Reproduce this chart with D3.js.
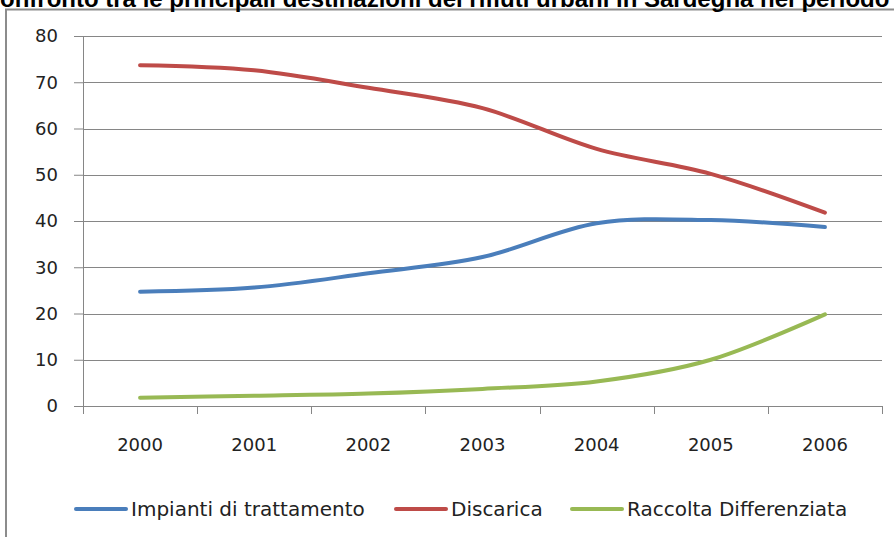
<!DOCTYPE html>
<html>
<head>
<meta charset="utf-8">
<script src="https://cdn.jsdelivr.net/npm/d3@7"></script>
<style>
  body { margin: 0; background: #fff; }
  svg { display: block; }
  .axis text { font-family: "DejaVu Sans", sans-serif; font-size: 18px; fill: #222; }
  .axis path, .axis line { stroke: #868686; }
  .grid line { stroke: #868686; stroke-width: 1; }
  .legend text { font-family: "DejaVu Sans", sans-serif; font-size: 20px; fill: #222; }
</style>
</head>
<body>
<div id="chart"></div>
<script>
var years = ["2000", "2001", "2002", "2003", "2004", "2005", "2006"];
var impianti = [24.7, 25.6, 28.7, 32.2, 39.5, 40.2, 38.7];
var discarica = [73.7, 72.6, 68.8, 64.4, 55.6, 50.2, 41.8];
var raccolta = [1.8, 2.2, 2.7, 3.7, 5.3, 10.0, 19.8];
var seriesNames = ["Impianti di trattamento", "Discarica", "Raccolta Differenziata"];
var yTicks = [0, 10, 20, 30, 40, 50, 60, 70, 80];
var title = "Confronto tra le principali destinazioni dei rifiuti urbani in Sardegna nel periodo 2000-2006";

var colors = ["#4a7ebb", "#be4b48", "#98b954"];
var series = [impianti, discarica, raccolta];

var W = 894, H = 537;
var margin = {top: 36, left: 83, right: 12, bottom: 131};
var width = W - margin.left - margin.right,
    height = H - margin.top - margin.bottom;

var root = d3.select("#chart").append("svg")
    .attr("width", W)
    .attr("height", H);

// outer frame (only left and top visible)
root.append("path")
    .attr("d", "M6,540 L6,9.5 L900,9.5")
    .attr("fill", "none")
    .attr("stroke", "#8c8c8c")
    .attr("stroke-width", 2);

// title, cut off at the top like the source image
var t = root.append("text")
    .attr("y", 7)
    .style("font-family", "'Liberation Sans', Arial, sans-serif")
    .style("font-weight", "bold")
    .style("font-size", "24px")
    .text("C");
var cw = t.node().getComputedTextLength();
t.attr("x", -cw).text(title);

var svg = root.append("g")
    .attr("transform", "translate(" + margin.left + "," + margin.top + ")");

var x = d3.scaleBand().domain(years).range([0, width]);
var y = d3.scaleLinear().domain([0, 80]).range([height, 0]);

// grid
svg.append("g")
    .attr("class", "grid")
    .selectAll("line")
    .data(yTicks.filter(function(d){ return d > 0; }))
    .enter().append("line")
    .attr("x1", 0)
    .attr("x2", width)
    .attr("y1", function(d){ return Math.round(y(d)) + 0.5; })
    .attr("y2", function(d){ return Math.round(y(d)) + 0.5; });

// y axis
svg.append("g")
    .attr("class", "axis y")
    .call(d3.axisLeft(y).tickValues(yTicks).tickSize(9).tickPadding(16).tickSizeOuter(0));

// x axis
var xAxis = svg.append("g")
    .attr("class", "axis x")
    .attr("transform", "translate(0," + height + ")")
    .call(d3.axisBottom(x).tickSize(0).tickPadding(32));

// boundary ticks between categories
xAxis.selectAll(".btick")
    .data(d3.range(years.length + 1))
    .enter().append("line")
    .attr("class", "btick")
    .attr("x1", function(i){ return Math.round(i * x.step()) + 0.5; })
    .attr("x2", function(i){ return Math.round(i * x.step()) + 0.5; })
    .attr("y1", 0)
    .attr("y2", 8);

// lines
var line = d3.line()
    .x(function(d, i){ return x(years[i]) + x.bandwidth() / 2; })
    .y(function(d){ return y(d); })
    .curve(d3.curveCatmullRom.alpha(0));

svg.selectAll(".series")
    .data(series)
    .enter().append("path")
    .attr("class", "series")
    .attr("d", line)
    .attr("fill", "none")
    .attr("stroke", function(d, i){ return colors[i]; })
    .attr("stroke-width", 4)
    .attr("stroke-linecap", "round");

// legend
var legendX = [76, 396, 572];
var legend = root.append("g").attr("class", "legend")
    .selectAll("g")
    .data(seriesNames)
    .enter().append("g")
    .attr("transform", function(d, i){ return "translate(" + legendX[i] + ",509)"; });

legend.append("line")
    .attr("x1", 0).attr("x2", 50)
    .attr("stroke", function(d, i){ return colors[i]; })
    .attr("stroke-width", 4)
    .attr("stroke-linecap", "round");

legend.append("text")
    .attr("x", 55)
    .attr("dy", "0.35em")
    .text(function(d){ return d; });
</script>
</body>
</html>
